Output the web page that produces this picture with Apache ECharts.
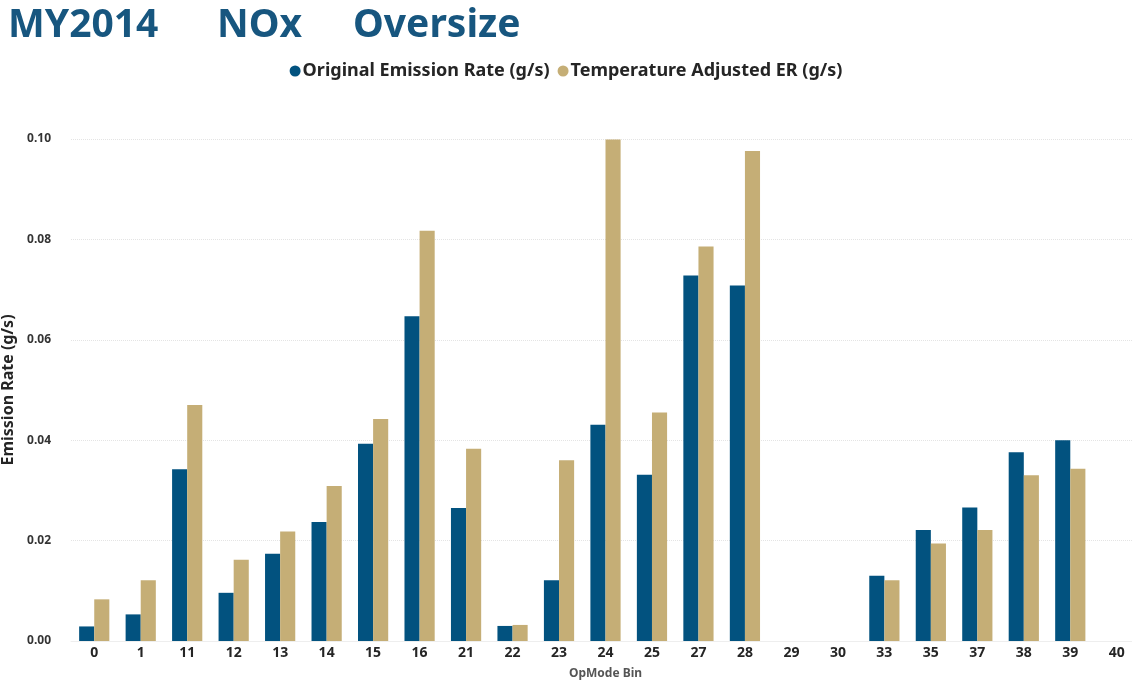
<!DOCTYPE html>
<html>
<head>
<meta charset="utf-8">
<script src="https://cdn.jsdelivr.net/npm/echarts@6/dist/echarts.min.js"></script>
<style>
  html, body { margin: 0; padding: 0; background: #fff; }
  #main { width: 1132px; height: 683px; }
</style>
</head>
<body>
<div id="main"></div>
<script>
// OpMode bins on the x axis
var categories = ['0', '1', '11', '12', '13', '14', '15', '16', '21', '22', '23',
    '24', '25', '27', '28', '29', '30', '33', '35', '37', '38', '39', '40'];

// Emission rates (g/s); null = no bar
var originalER = [0.0029, 0.0053, 0.0342, 0.0096, 0.0174, 0.0237, 0.0393, 0.0647,
    0.0265, 0.0030, 0.0121, 0.0431, 0.0331, 0.0728, 0.0708, null, null,
    0.0130, 0.0221, 0.0266, 0.0376, 0.0400, null];
var tempAdjustedER = [0.0083, 0.0121, 0.0470, 0.0162, 0.0218, 0.0309, 0.0442, 0.0817,
    0.0383, 0.0032, 0.0360, 0.0999, 0.0455, 0.0786, 0.0976, null, null,
    0.0121, 0.0194, 0.0221, 0.0330, 0.0343, null];

var yTicks = [0, 0.02, 0.04, 0.06, 0.08, 0.10];

var font = '"Noto Sans", "Open Sans", sans-serif';
var titleStyle = { color: '#17567f', fontSize: 39, fontWeight: 'bold', fontFamily: font };

var myChart = echarts.init(document.getElementById('main'));

var option = {
    backgroundColor: '#fff',
    animation: false,
    title: [
        { text: 'MY2014', left: 3, top: 1, textStyle: titleStyle },
        { text: 'NOx', left: 212, top: 1, textStyle: titleStyle },
        { text: 'Oversize', left: 348, top: 1, textStyle: titleStyle }
    ],
    legend: {
        top: 57,
        left: 'center',
        icon: 'circle',
        itemWidth: 11,
        itemHeight: 11,
        itemGap: 8,
        textStyle: { fontFamily: font, fontWeight: 'bold', fontSize: 18, color: '#252525', padding: [0, 0, 0, -3] }
    },
    grid: {
        left: 71,
        right: -8,
        top: 139,
        bottom: 42,
        outerBoundsMode: 'none'
    },
    xAxis: {
        type: 'category',
        data: categories,
        name: 'OpMode Bin',
        nameLocation: 'middle',
        nameGap: 27,
        nameTextStyle: { fontFamily: font, fontWeight: 'bold', fontSize: 12, color: '#555' },
        axisLine: { show: true, lineStyle: { color: '#eeeeee' } },
        axisTick: { show: false },
        axisLabel: { fontFamily: font, fontWeight: 'bold', fontSize: 14, color: '#252525', margin: 5 }
    },
    yAxis: {
        type: 'value',
        min: yTicks[0],
        max: yTicks[yTicks.length - 1],
        interval: 0.02,
        name: 'Emission Rate (g/s)',
        nameLocation: 'middle',
        nameGap: 51,
        nameTextStyle: { fontFamily: font, fontWeight: 'bold', fontSize: 16, color: '#252525' },
        axisLine: { show: false },
        axisTick: { show: false },
        splitLine: { lineStyle: { color: '#e4e4e4', type: 'dotted' } },
        axisLabel: {
            fontFamily: font, fontWeight: 'bold', fontSize: 12, color: '#333', margin: 20,
            formatter: function (v) { return v.toFixed(2); }
        }
    },
    series: [
        {
            name: 'Original Emission Rate (g/s)',
            type: 'bar',
            data: originalER,
            itemStyle: { color: '#02527f' },
            barGap: '0%',
            barCategoryGap: '35%'
        },
        {
            name: 'Temperature Adjusted ER (g/s)',
            type: 'bar',
            data: tempAdjustedER,
            itemStyle: { color: '#c5ae76' },
            barGap: '0%',
            barCategoryGap: '35%'
        }
    ]
};

myChart.setOption(option);
</script>
</body>
</html>
